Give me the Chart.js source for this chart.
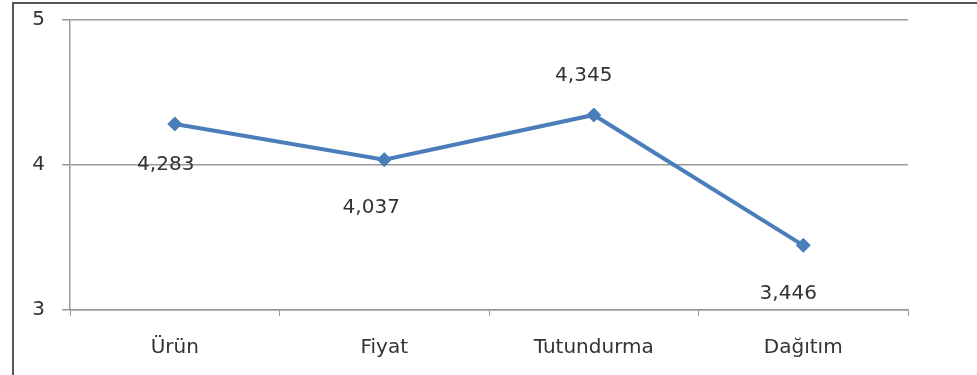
<!DOCTYPE html>
<html>
<head>
<meta charset="utf-8">
<script src="https://cdn.jsdelivr.net/npm/chart.js@4"></script>
<style>
  html, body { margin: 0; padding: 0; background: #fff; overflow: hidden; }
  canvas { display: block; }
</style>
</head>
<body>
<canvas id="c" width="977" height="375"></canvas>
<script>
const categories = ['Ürün', 'Fiyat', 'Tutundurma', 'Dağıtım'];
const values = [4.283, 4.037, 4.345, 3.446];
const valueLabels = ['4,283', '4,037', '4,345', '3,446'];
const yTicks = [3, 4, 5];

const FONT = "'DejaVu Sans', sans-serif";
const TEXT = '#333333';
const GRID = '#9a9a9a';

// label offsets relative to each point (style only)
const labelOffsets = [[-9, 41], [-13, 48], [-10, -39], [-15, 48]];

const framePlugin = {
  id: 'frame',
  beforeDraw(chart) {
    const ctx = chart.ctx;
    ctx.save();
    ctx.strokeStyle = '#555';
    ctx.lineWidth = 2;
    ctx.beginPath();
    ctx.moveTo(13, 375);
    ctx.lineTo(13, 3);
    ctx.lineTo(977, 3);
    ctx.stroke();
    ctx.restore();
  }
};

const valueLabelPlugin = {
  id: 'valueLabels',
  afterDatasetsDraw(chart) {
    const ctx = chart.ctx;
    const meta = chart.getDatasetMeta(0);
    ctx.save();
    ctx.font = '20px ' + FONT;
    ctx.fillStyle = TEXT;
    ctx.textAlign = 'center';
    ctx.textBaseline = 'middle';
    meta.data.forEach((pt, i) => {
      const o = labelOffsets[i];
      ctx.fillText(valueLabels[i], pt.x + o[0], pt.y + o[1]);
    });
    ctx.restore();
  }
};

new Chart(document.getElementById('c'), {
  type: 'line',
  data: {
    labels: categories,
    datasets: [{
      data: values,
      borderColor: '#4a7ebb',
      backgroundColor: '#4a7ebb',
      borderWidth: 4,
      pointStyle: 'rectRot',
      pointRadius: 7,
      pointBorderWidth: 1,
      pointBackgroundColor: '#4a7ebb',
      pointBorderColor: '#4a7ebb',
      tension: 0,
      fill: false
    }]
  },
  options: {
    responsive: false,
    animation: false,
    devicePixelRatio: 1,
    layout: { padding: { left: 0, top: 20, right: 69, bottom: 0 } },
    plugins: { legend: { display: false }, tooltip: { enabled: false } },
    scales: {
      x: {
        type: 'category',
        offset: true,
        afterFit(scale) { scale.height = 65; scale.paddingLeft = 0; scale.paddingRight = 0; },
        grid: { offset: true, drawOnChartArea: false, drawTicks: true, tickLength: 6, color: GRID, lineWidth: 1 },
        border: { display: true, color: GRID, width: 1.5 },
        ticks: { color: TEXT, font: { family: FONT, size: 20 }, padding: 20, maxRotation: 0 }
      },
      y: {
        min: 3, max: 5,
        afterFit(scale) { scale.width = 70; scale.paddingTop = 0; scale.paddingBottom = 0; },
        afterBuildTicks(scale) { scale.ticks = yTicks.map(v => ({ value: v })); },
        grid: { color: GRID, lineWidth: 1.5, tickLength: 8, drawTicks: true },
        border: { display: true, color: GRID, width: 1.5 },
        ticks: { color: TEXT, font: { family: FONT, size: 20 }, padding: 17 }
      }
    }
  },
  plugins: [framePlugin, valueLabelPlugin]
});
</script>
</body>
</html>
